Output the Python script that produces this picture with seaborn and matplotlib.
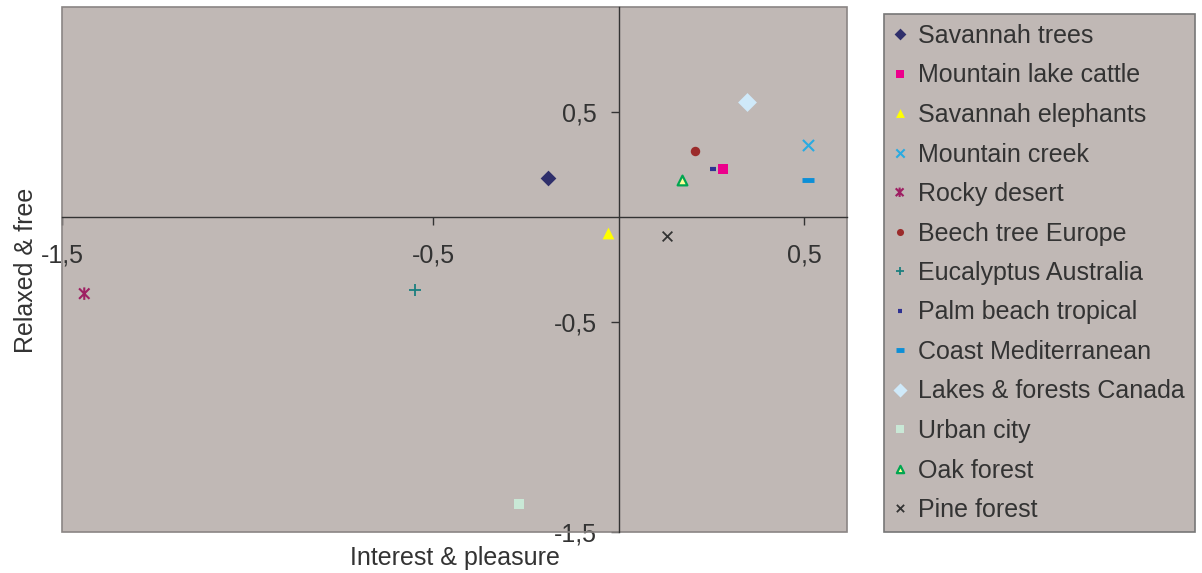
import matplotlib
matplotlib.use("Agg")
import matplotlib.pyplot as plt
import seaborn as sns
import pandas as pd
from matplotlib.path import Path
from matplotlib.patches import Rectangle
from matplotlib.ticker import FuncFormatter, FixedLocator

# Landscape ratings on the two perception dimensions
landscapes = [
    "Savannah trees", "Mountain lake cattle", "Savannah elephants",
    "Mountain creek", "Rocky desert", "Beech tree Europe",
    "Eucalyptus Australia", "Palm beach tropical", "Coast Mediterranean",
    "Lakes & forests Canada", "Urban city", "Oak forest", "Pine forest",
]
interest = [-0.19, 0.28, -0.03, 0.51, -1.44, 0.205, -0.55, 0.255, 0.51,
            0.345, -0.27, 0.17, 0.13]
relaxed = [0.186, 0.229, -0.075, 0.343, -0.365, 0.315, -0.35, 0.229, 0.176,
           0.548, -1.365, 0.177, -0.089]

x_ticks = [-1.5, -0.5, 0.5]
y_ticks = [0.5, -0.5, -1.5]

df = pd.DataFrame({"landscape": landscapes, "interest": interest, "relaxed": relaxed})

# asterisk-like marker: an x crossed by a vertical stroke
asterisk = Path(
    [(-1, -1), (1, 1), (-1, 1), (1, -1), (0, -1.2), (0, 1.2)],
    [Path.MOVETO, Path.LINETO, Path.MOVETO, Path.LINETO, Path.MOVETO, Path.LINETO],
)

# marker, size (pt), face colour, edge colour, edge width
styles = [
    ("D", 8.0, "#2f2f6b", "#2f2f6b", 0.0),
    ("s", 6.8, "#ec008c", "#ec008c", 0.0),
    ("^", 8.5, "#ffff00", "#ffff00", 0.0),
    ("x", 8.0, "#29abe2", "#29abe2", 1.5),
    (asterisk, 9.0, "none", "#9e1f63", 1.5),
    ("o", 6.8, "#9b2b2b", "#9b2b2b", 0.0),
    ("+", 8.0, "#1b7f7f", "#1b7f7f", 1.3),
    ("_", 4.5, "#2e3192", "#2e3192", 3.0),
    ("_", 8.0, "#0c8fd7", "#0c8fd7", 3.5),
    ("D", 9.6, "#cfe9f9", "#cfe9f9", 0.0),
    ("s", 6.8, "#c9e8d6", "#c9e8d6", 0.0),
    ("^", 7.0, "#ffff99", "#00a650", 1.6),
    ("x", 7.0, "#333333", "#333333", 1.3),
]

sns.set_theme(style="white")
plt.rcParams["font.family"] = ["Liberation Sans", "DejaVu Sans"]

bg = "#c0b8b5"
text_color = "#333333"

fig = plt.figure(figsize=(12.02, 5.73), dpi=100)
ax = fig.add_axes([62 / 1202, 41 / 573, (847 - 62) / 1202, (566 - 41) / 573])
ax.set_facecolor(bg)

for (marker, size, face, edge, lw), (_, row) in zip(styles, df.iterrows()):
    sns.scatterplot(
        data=df[df["landscape"] == row["landscape"]], x="interest", y="relaxed",
        marker=marker, s=size ** 2, color=face if face != "none" else edge,
        facecolor=face, edgecolor=edge, linewidth=lw,
        label=row["landscape"], ax=ax, legend=False, zorder=3,
    )

ax.set_xlabel("")
ax.set_ylabel("")
ax.set_xlim(-1.5, 0.615)
ax.set_ylim(-1.5, 1.0)

# axes crossing at the origin
for side in ("top", "right"):
    ax.spines[side].set_visible(False)
ax.spines["left"].set_position(("data", 0))
ax.spines["bottom"].set_position(("data", 0))
for side in ("left", "bottom"):
    ax.spines[side].set_color("#333333")
    ax.spines[side].set_linewidth(1.0)
    ax.spines[side].set_zorder(2)

ax.add_patch(Rectangle((0, 0), 1, 1, transform=ax.transAxes, fill=False,
                       edgecolor="#8a8584", linewidth=1.2, clip_on=False, zorder=1))

fmt = FuncFormatter(lambda v, _: f"{v:.1f}".replace(".", ","))
ax.xaxis.set_major_locator(FixedLocator(x_ticks))
ax.yaxis.set_major_locator(FixedLocator(y_ticks))
ax.xaxis.set_major_formatter(fmt)
ax.yaxis.set_major_formatter(fmt)
ax.tick_params(axis="x", bottom=True, direction="out", length=6, width=1,
               color="#333333", pad=13, labelsize=18, labelcolor=text_color)
ax.tick_params(axis="y", left=True, direction="out", length=6, width=1,
               color="#333333", pad=10, labelsize=18, labelcolor=text_color)

fig.text(455 / 1202, 1 - 558 / 573, "Interest & pleasure", ha="center", va="center",
         fontsize=18, color=text_color)
fig.text(26 / 1202, 1 - 270 / 573, "Relaxed & free", ha="center", va="center",
         rotation=90, fontsize=18, color=text_color)

handles, labels = ax.get_legend_handles_labels()
leg = fig.legend(
    handles, labels, loc="upper left", bbox_to_anchor=(884 / 1202, 1 - 14 / 573),
    frameon=True, fancybox=False, fontsize=18, markerscale=0.75,
    scatteryoffsets=[0.5],
    handlelength=0.45, handletextpad=0.5, labelspacing=0.62, borderpad=0.4,
    borderaxespad=0,
)
leg.get_frame().set_facecolor(bg)
leg.get_frame().set_edgecolor("#777777")
leg.get_frame().set_linewidth(1.2)
leg.get_frame().set_alpha(1)
for t in leg.get_texts():
    t.set_color(text_color)

fig.savefig("out.png", dpi=100, facecolor="white")
